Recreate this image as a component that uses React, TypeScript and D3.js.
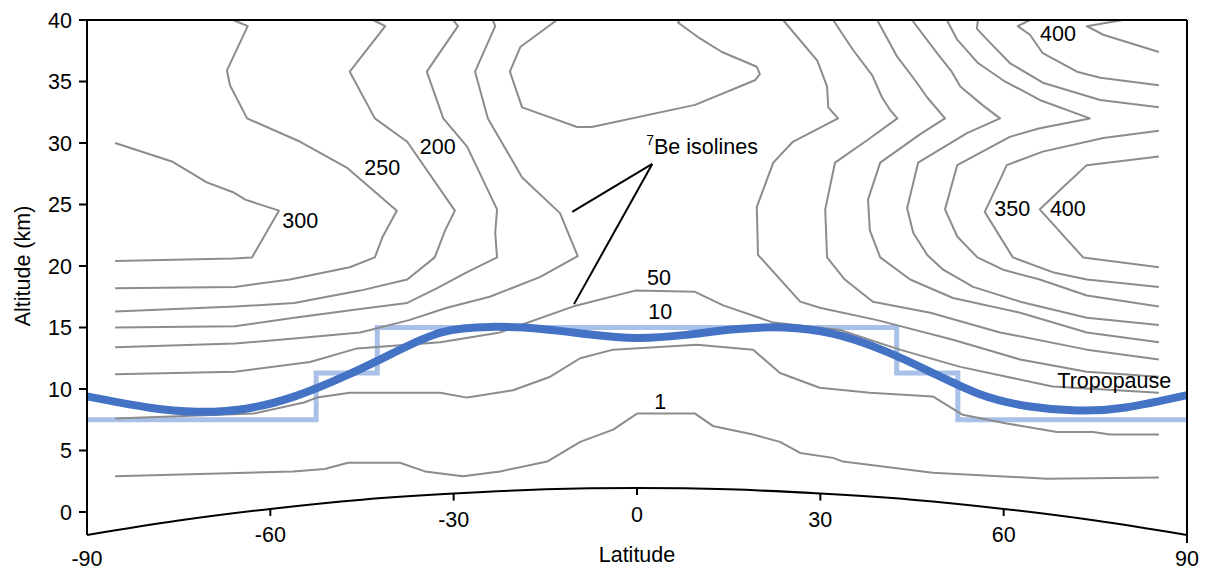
import React from 'react';
import * as d3 from 'd3';

type Pt = [number, number];

// latitude (deg), altitude (km)
const c300: Pt[] = [[-85.4, 30.0], [-76.1, 28.5], [-70.4, 26.8], [-66.1, 26.0], [-64.1, 25.4], [-58.6, 24.5], [-63.0, 20.7], [-66.1, 20.6], [-85.4, 20.4]];
const c250: Pt[] = [[-66.1, 40], [-63.7, 39.5], [-67.1, 35.9], [-66.6, 34.7], [-63.8, 32.0], [-55.1, 30.1], [-47.5, 28.0], [-39.3, 24.5], [-41.6, 22.4], [-42.9, 20.7], [-47.0, 19.9], [-56.8, 18.9], [-65.8, 18.3], [-85.4, 18.2]];
const c200: Pt[] = [[-43.2, 40], [-41.2, 39.5], [-47.0, 35.8], [-42.9, 32.0], [-37.6, 30.1], [-29.8, 24.5], [-31.4, 22.9], [-33.1, 20.7], [-37.6, 18.9], [-45.3, 18.0], [-56.1, 17.0], [-65.8, 16.7], [-85.4, 16.3]];
const c150: Pt[] = [[-30.1, 40], [-29.3, 39.5], [-34.4, 35.8], [-31.7, 32.0], [-27.8, 29.7], [-22.9, 24.6], [-23.2, 22.7], [-22.9, 20.7], [-27.8, 19.5], [-32.7, 18.2], [-37.6, 17.0], [-45.3, 16.5], [-56.1, 15.8], [-65.8, 15.1], [-85.4, 15.0]];
const c100: Pt[] = [[-23.6, 40], [-23.2, 39.5], [-26.5, 35.8], [-24.4, 32.0], [-18.8, 27.2], [-12.6, 24.3], [-9.7, 20.8], [-15.9, 19.1], [-24.1, 17.5], [-31.1, 16.6], [-37.3, 15.6], [-45.3, 14.6], [-56.1, 14.1], [-65.8, 13.7], [-85.4, 13.4]];
const bubble: Pt[] = [[-13.1, 40], [-19.1, 37.8], [-20.8, 35.8], [-18.8, 32.9], [-9.8, 31.3], [-7.4, 31.3], [9.5, 33.1], [19.3, 35.1], [20.1, 35.6], [19.6, 36.2], [13.9, 37.4], [10.3, 38.5], [6.7, 39.8], [7.0, 40]];
const c50: Pt[] = [[-85.4, 11.2], [-65.8, 11.4], [-53.5, 12.2], [-45.8, 13.3], [-32.2, 13.8], [-22.4, 14.6], [-10.5, 16.7], [-0.3, 18.0], [9.5, 17.9], [14.1, 16.8], [22.3, 15.4], [33.2, 14.8], [43.0, 13.2], [52.9, 11.8], [60.5, 11.0], [68.0, 10.2], [85.4, 9.7]];
const c10: Pt[] = [[-85.4, 7.6], [-62.7, 8.0], [-54.5, 8.9], [-52.4, 9.3], [-47.0, 9.7], [-32.2, 9.7], [-27.8, 9.3], [-20.3, 9.9], [-14.2, 11.0], [-9.3, 12.5], [-3.9, 13.2], [9.8, 13.6], [19.0, 13.2], [23.4, 11.3], [29.9, 10.1], [38.1, 9.7], [48.4, 9.4], [53.3, 7.9], [60.5, 7.2], [68.7, 6.5], [74.6, 6.5], [77.4, 6.3], [85.4, 6.3]];
const c1: Pt[] = [[-85.4, 2.9], [-56.3, 3.3], [-51.1, 3.5], [-47.3, 4.0], [-38.8, 4.0], [-34.7, 3.3], [-28.5, 2.9], [-22.4, 3.3], [-14.7, 4.1], [-9.3, 5.7], [-3.9, 6.7], [0, 8.0], [9.5, 8.0], [12.4, 7.0], [19.0, 6.3], [23.4, 5.7], [26.7, 4.8], [32.1, 4.4], [33.7, 4.1], [48.4, 3.2], [67.1, 2.7], [85.4, 2.8]];
const r100: Pt[] = [[23.9, 40], [29.5, 36.7], [31.1, 34.6], [31.3, 32.9], [32.9, 32.0], [25.5, 30.1], [22.3, 28.4], [19.6, 24.8], [19.8, 20.9], [26.7, 17.1], [29.9, 16.6], [39.3, 15.6], [51.7, 14.0], [62.7, 12.4], [73.6, 11.4], [85.4, 11.0]];
const r150: Pt[] = [[32.1, 40], [35.3, 37.6], [38.5, 35.5], [40.1, 33.7], [41.4, 32.7], [42.6, 32.0], [37.6, 30.2], [32.4, 28.4], [30.8, 24.6], [31.1, 20.7], [34.0, 18.9], [38.6, 17.1], [48.0, 16.2], [59.4, 14.6], [73.6, 13.2], [85.4, 12.4]];
const r200: Pt[] = [[39.3, 40], [42.6, 37.0], [45.5, 35.1], [47.5, 33.7], [50.4, 32.0], [46.3, 30.7], [39.8, 28.4], [37.8, 25.4], [38.1, 22.9], [39.8, 20.7], [44.7, 18.9], [51.7, 17.4], [62.7, 16.2], [73.6, 14.6], [85.4, 13.8]];
const r250: Pt[] = [[45.0, 40], [49.1, 37.3], [51.5, 35.8], [52.9, 34.6], [56.5, 33.1], [59.4, 32.0], [54.0, 30.8], [46.0, 28.4], [44.2, 24.7], [45.2, 22.7], [47.5, 20.9], [50.1, 19.7], [55.0, 18.3], [62.7, 17.1], [73.6, 15.8], [85.4, 15.2]];
const r300: Pt[] = [[50.7, 40], [52.4, 38.4], [55.8, 36.5], [59.9, 35.1], [65.9, 33.5], [74.1, 32.0], [65.9, 31.2], [61.0, 30.5], [52.4, 28.2], [50.4, 24.6], [52.4, 22.4], [55.7, 20.7], [59.9, 19.7], [65.9, 18.9], [73.6, 17.6], [85.4, 16.7]];
const r320: Pt[] = [[55.8, 40], [55.6, 39.3], [57.3, 38.4], [61.0, 36.5], [66.4, 34.9], [75.8, 33.5], [85.4, 32.9]];
const r350: Pt[] = [[85.4, 31.0], [76.3, 30.4], [66.4, 29.3], [60.5, 28.2], [59.4, 27.0], [56.9, 24.4], [61.5, 20.7], [68.0, 19.5], [73.6, 18.9], [85.4, 18.3]];
const r400a: Pt[] = [[64.3, 40], [62.3, 39.5], [64.3, 38.8], [66.4, 37.3], [72.0, 35.8], [75.8, 35.3], [85.4, 34.7]];
const r400b: Pt[] = [[79.5, 40], [73.6, 39.5], [76.3, 38.8], [85.4, 37.4]];
const r400c: Pt[] = [[85.4, 28.9], [73.6, 28.2], [69.7, 26.4], [65.9, 24.6], [73.0, 20.7], [85.4, 19.9]];

const isolines = [c300, c250, c200, c150, c100, bubble, c50, c10, c1, r100, r150, r200, r250, r300, r320, r350, r400a, r400b, r400c];

const labelText = ['300', '250', '200', '50', '10', '1', '400', '350', '400'];
const labelLat = [-55.1, -41.7, -32.6, 3.6, 3.8, 3.8, 68.9, 61.4, 70.5];
const labelAlt = [23.7, 28.0, 29.7, 19.1, 16.3, 9.0, 38.9, 24.7, 24.7];

// tropopause
const tropLat = [-90, -80, -72, -64, -56, -48, -40, -32, -24, -16, -8, 0, 8, 16, 24, 32, 40, 48, 56, 64, 72, 80, 90];
const tropAlt = [9.4, 8.5, 8.15, 8.4, 9.4, 11.0, 12.9, 14.6, 15.05, 14.9, 14.45, 14.15, 14.4, 14.85, 15.0, 14.5, 13.2, 11.4, 9.6, 8.6, 8.25, 8.5, 9.5];

// stepped tropopause
const stepLat = [-90, -52.5, -42.5, 42.5, 52.5, 90];
const stepAlt = [7.5, 11.3, 15, 11.3, 7.5, 7.5];

// earth surface
const groundLat = [-90, -75, -60, -45, -30, -15, 0, 15, 30, 45, 60, 75, 90];
const groundAlt = [-1.87, -0.7, 0.25, 1.0, 1.5, 1.84, 1.95, 1.84, 1.5, 1.0, 0.25, -0.7, -1.87];

const xTicks = [-90, -60, -30, 0, 30, 60, 90];
const yTicks = [0, 5, 10, 15, 20, 25, 30, 35, 40];

const App = () => {
  const width = 1206;
  const height = 572;
  const x = d3.scaleLinear().domain([-90, 90]).range([87, 1187]);
  const y = d3.scaleLinear().domain([0, 40]).range([512, 20]);
  const font = 'Liberation Sans, Arial, sans-serif';
  const fs = 21.5;

  const line = d3.line<Pt>().x(d => x(d[0])).y(d => y(d[1]));
  const smooth = d3.line<Pt>().x(d => x(d[0])).y(d => y(d[1])).curve(d3.curveNatural);
  const step = d3.line<Pt>().x(d => x(d[0])).y(d => y(d[1])).curve(d3.curveStepAfter);

  const trop: Pt[] = tropLat.map((l, i) => [l, tropAlt[i]]);
  const steps: Pt[] = stepLat.map((l, i) => [l, stepAlt[i]]);
  const ground: Pt[] = groundLat.map((l, i) => [l, groundAlt[i]]);
  const groundY = (lat: number) => y(groundAlt[groundLat.indexOf(lat)]);

  return (
    <svg width={width} height={height} style={{ position: 'absolute', left: 0, top: 0, background: '#fff' }} fontFamily={font}>
      <path d={step(steps) || ''} fill="none" stroke="#a9c0e8" strokeWidth={5} />
      {isolines.map((c, i) => (
        <path key={i} d={line(c) || ''} fill="none" stroke="#8c8c8c" strokeWidth={2} strokeLinejoin="round" />
      ))}
      <path d={smooth(trop) || ''} fill="none" stroke="#4472c4" strokeWidth={8} />

      {labelText.map((t, i) => (
        <text key={i} x={x(labelLat[i])} y={y(labelAlt[i])} dy="0.35em" textAnchor="middle" fontSize={fs}>{t}</text>
      ))}
      <text x={x(78.1)} y={y(10.7)} dy="0.35em" textAnchor="middle" fontSize={fs}>Tropopause</text>
      <text x={x(1.5)} y={y(29.2)} dy="0.35em" fontSize={fs}>
        <tspan fontSize={14} dy="-0.55em">7</tspan>
        <tspan dy="0.4em">Be isolines</tspan>
      </text>
      <line x1={x(2.5)} y1={y(28.3)} x2={x(-10.6)} y2={y(24.4)} stroke="#000" strokeWidth={2} />
      <line x1={x(2.5)} y1={y(28.3)} x2={x(-10.3)} y2={y(16.9)} stroke="#000" strokeWidth={2} />

      {/* frame */}
      <line x1={x(-90)} y1={y(40)} x2={x(90)} y2={y(40)} stroke="#000" strokeWidth={2} />
      <line x1={x(-90)} y1={y(40)} x2={x(-90)} y2={groundY(-90)} stroke="#000" strokeWidth={2} />
      <line x1={x(90)} y1={y(40)} x2={x(90)} y2={groundY(90) + 8} stroke="#000" strokeWidth={2} />
      <path d={smooth(ground) || ''} fill="none" stroke="#000" strokeWidth={2} />

      {yTicks.map(t => (
        <g key={t}>
          <line x1={x(-90) - 8} x2={x(-90)} y1={y(t)} y2={y(t)} stroke="#000" strokeWidth={2} />
          <text x={72} y={y(t)} dy="0.35em" textAnchor="end" fontSize={fs}>{t}</text>
        </g>
      ))}
      {xTicks.map(t => (
        <g key={t}>
          {Math.abs(t) < 90 && (
            <line x1={x(t)} x2={x(t)} y1={groundY(t)} y2={groundY(t) + 7} stroke="#000" strokeWidth={2} />
          )}
          <text x={x(t)} y={groundY(t) + (Math.abs(t) === 90 ? 23 : 26)} dy="0.35em" textAnchor="middle" fontSize={fs}>{t}</text>
        </g>
      ))}
      <text x={x(0)} y={554} dy="0.35em" textAnchor="middle" fontSize={fs}>Latitude</text>
      <text transform={`translate(22,${y(20)}) rotate(-90)`} dy="0.35em" textAnchor="middle" fontSize={fs}>Altitude (km)</text>
    </svg>
  );
};

export default App;
